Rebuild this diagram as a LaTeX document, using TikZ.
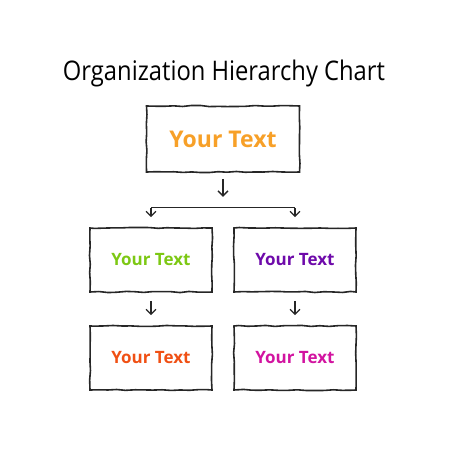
\documentclass[tikz,border=0pt]{standalone}
\usepackage{fontspec}
\setmainfont{Open Sans}
\usetikzlibrary{arrows.meta,decorations.pathmorphing,calc}
\definecolor{topOrange}{RGB}{247,160,40}
\definecolor{leafGreen}{RGB}{125,200,20}
\definecolor{deepPurple}{RGB}{110,10,170}
\definecolor{redOrange}{RGB}{240,80,20}
\definecolor{hotMagenta}{RGB}{210,20,160}
\tikzset{%
  >={Straight Barb[length=5pt,width=10pt]},
  % Specifications for style of nodes:
        sketch/.style = {rectangle, draw=black!85, line width=1.6pt,
                         decorate, decoration={random steps, segment length=9pt, amplitude=0.6pt},
                         text centered, font=\bfseries},
       headBox/.style = {sketch, minimum width=153pt, minimum height=66pt, font=\bfseries\fontsize{23}{26}\selectfont},
      childBox/.style = {sketch, minimum width=122pt, minimum height=64pt, font=\bfseries\fontsize{17}{20}\selectfont},
     connector/.style = {black!85, line width=1.3pt},
}
\begin{document}
\begin{tikzpicture}[x=1pt, y=1pt, node distance=98pt]
  \useasboundingbox (0,0) rectangle (450,-450);
  \node (title)     at (224,-73) {\scalebox{0.88}[1]{\fontsize{27}{30}\selectfont Organization Hierarchy Chart}};

  \node (top)       [headBox, text=topOrange] at (223,-139) {Your Text};
  \node (midLeft)   [childBox, text=leafGreen, below of=top, xshift=-72pt, yshift=-23pt] {Your Text};
  \node (midRight)  [childBox, text=deepPurple, right of=midLeft, xshift=46pt] {Your Text};
  \node (botLeft)   [childBox, text=redOrange, below of=midLeft] {Your Text};
  \node (botRight)  [childBox, text=hotMagenta, below of=midRight] {Your Text};

  % split point under the head box
  \coordinate (split) at ($(top.south)+(0,-35)$);

  \draw[->, connector, shorten <=6pt, shorten >=11pt] (top.south) -- (split);
  \draw[connector] (split -| midLeft) -- (split -| midRight);
  \draw[->, connector, shorten >=10pt] (split -| midLeft) -- (midLeft.north);
  \draw[->, connector, shorten >=10pt] (split -| midRight) -- (midRight.north);

  \draw[->, connector, shorten <=8pt, shorten >=10pt] (midLeft) -- (botLeft);
  \draw[->, connector, shorten <=8pt, shorten >=10pt] (midRight) -- (botRight);
\end{tikzpicture}
\end{document}
